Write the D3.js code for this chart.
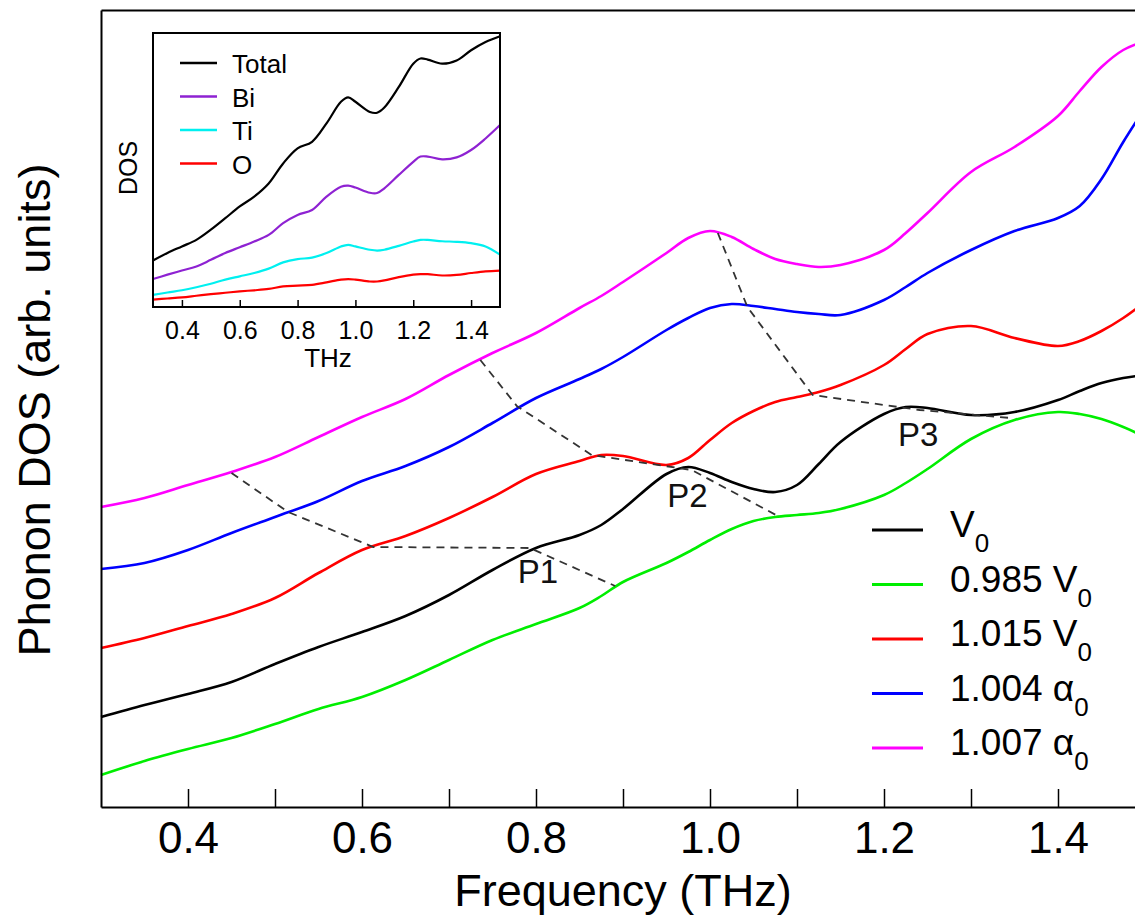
<!DOCTYPE html>
<html>
<head>
<meta charset="utf-8">
<script src="https://cdn.jsdelivr.net/npm/d3@7"></script>
<style>
  html, body { margin: 0; padding: 0; background: #ffffff; }
  svg { display: block; font-family: "Liberation Sans", Arial, Helvetica, sans-serif; }
</style>
</head>
<body>
<svg id="chart" width="1135" height="920"></svg>
<script>
// ---------------- DATA ----------------
const freqMain = [0.30,0.35,0.40,0.45,0.50,0.55,0.60,0.65,0.70,0.75,0.80,0.85,0.875,0.90,0.95,0.975,1.00,1.025,1.05,1.075,1.10,1.125,1.15,1.20,1.225,1.25,1.30,1.35,1.40,1.425,1.45,1.475,1.50];
const dosV0    = [9.0,10.2,11.3,12.5,14.3,16.0,17.5,19.1,21.2,23.7,25.9,27.2,28.2,29.8,33.3,34.0,33.4,32.5,31.8,31.5,32.2,34.3,36.5,39.3,40.0,39.9,39.2,39.5,40.7,41.6,42.4,42.9,43.2];
const dosV0985 = [3.2,4.6,5.8,6.9,8.3,9.8,11.0,12.7,14.7,16.7,18.3,19.9,21.1,22.5,24.4,25.5,26.7,27.8,28.6,29.0,29.2,29.4,29.8,31.2,32.4,33.8,36.8,38.7,39.5,39.3,38.8,38.0,37.0];
const dosV1015 = [15.9,16.9,18.1,19.3,20.9,23.4,25.7,27.1,28.9,31.0,33.3,34.6,35.2,35.1,34.2,34.9,36.7,38.4,39.6,40.5,41.0,41.5,42.2,44.2,45.8,47.3,48.1,46.9,46.1,46.6,47.6,48.9,50.5];
const dosA1004 = [23.8,24.4,25.7,27.4,29.0,30.6,32.6,34.1,36.0,38.4,40.9,42.8,43.8,45.0,47.7,48.9,49.9,50.3,50.1,49.8,49.5,49.3,49.2,50.7,52.0,53.4,55.7,57.6,58.9,60.1,62.8,66.5,69.9];
const dosA1007 = [30.0,30.9,32.2,33.5,35.0,37.0,39.0,40.8,43.2,45.4,47.4,49.9,51.1,52.5,55.4,56.9,57.6,57.0,55.8,54.8,54.3,54.0,54.2,55.7,57.4,59.4,63.5,66.0,69.1,71.6,74.0,75.7,76.6];

const seriesNames = ["V", "0.985 V", "1.015 V", "1.004 \u03b1", "1.007 \u03b1"];
const seriesSub   = ["0", "0", "0", "0", "0"];

// peak tracks (dashed guides)
const p1Freq = [0.450, 0.515, 0.613, 0.793, 0.891];
const p1Dos  = [33.4, 29.5, 26.0, 25.9, 22.1];
const p2Freq = [0.736, 0.778, 0.864, 0.979, 1.078];
const p2Dos  = [44.7, 40.1, 35.2, 33.7, 29.1];
const p3Freq = [1.009, 1.043, 1.118, 1.241, 1.346];
const p3Dos  = [57.4, 50.0, 41.2, 39.7, 38.9];
const peakNames = ["P1", "P2", "P3"];
const peakLabelFreq = [0.779, 0.951, 1.216];
const peakLabelDos  = [22.4, 30.0, 36.1];

const mainTicks = [0.4, 0.6, 0.8, 1.0, 1.2, 1.4];
const minorTicks = [0.4, 0.5, 0.6, 0.7, 0.8, 0.9, 1.0, 1.1, 1.2, 1.3, 1.4, 1.5];

// inset (partial DOS)
const freqInset = [0.30,0.35,0.40,0.45,0.50,0.55,0.60,0.65,0.70,0.75,0.80,0.85,0.90,0.95,0.975,1.00,1.05,1.075,1.10,1.15,1.20,1.225,1.25,1.30,1.35,1.40,1.45,1.50];
const dosTotal = [17.0,19.7,22.1,24.5,28.2,32.4,36.7,40.3,45.1,52.4,57.9,60.3,67.0,74.9,76.5,74.9,71.2,70.9,72.8,80.3,88.8,90.7,90.3,88.8,90.0,93.7,96.7,98.8];
const dosBi    = [10.2,11.8,13.3,14.8,17.2,19.7,21.8,23.9,26.3,30.6,33.6,35.4,40.3,43.9,44.3,43.6,41.7,41.6,43.3,48.2,53.0,54.9,54.9,53.9,54.6,57.3,61.5,66.4];
const dosTi    = [4.4,5.3,6.1,7.2,8.5,10.0,11.2,12.4,14.0,16.3,17.5,18.0,19.7,22.1,22.7,22.1,20.9,20.6,20.9,22.3,23.9,24.5,24.5,24.0,23.8,23.3,22.1,19.1];
const dosO     = [2.7,3.1,3.5,4.1,4.7,5.2,5.7,6.1,6.6,7.5,7.8,8.1,9.0,10.0,10.2,10.0,9.3,9.3,9.7,10.9,11.8,12.0,12.0,11.5,11.7,12.4,13.0,13.3];
const insetNames = ["Total", "Bi", "Ti", "O"];
const insetTicks = [0.4, 0.6, 0.8, 1.0, 1.2, 1.4];

// ---------------- DRAW ----------------
const svg = d3.select("#chart");
svg.append("rect").attr("width", 1135).attr("height", 920).attr("fill", "#fff");

const mainColors = ["#000000", "#00ee00", "#ff0000", "#0000ff", "#ff00ff"];
const mainSeries = [dosV0, dosV0985, dosV1015, dosA1004, dosA1007];

const x = d3.scaleLinear().domain([0.3, 1.5]).range([101, 1145]);
const y = d3.scaleLinear().domain([0, 79.7]).range([807, 10]);

const line = d3.line()
  .x(d => x(d[0])).y(d => y(d[1]))
  .curve(d3.curveCatmullRom.alpha(0.5));

// curves (draw order: back to front)
[4, 3, 2, 0, 1].forEach(i => {
  svg.append("path")
    .datum(freqMain.map((f, k) => [f, mainSeries[i][k]]))
    .attr("d", line)
    .attr("fill", "none")
    .attr("stroke", mainColors[i])
    .attr("stroke-width", 2.6);
});

// dashed peak tracks
const straight = d3.line().x(d => x(d[0])).y(d => y(d[1]));
[[p1Freq, p1Dos], [p2Freq, p2Dos], [p3Freq, p3Dos]].forEach(([fs, ds]) => {
  svg.append("path")
    .datum(fs.map((f, k) => [f, ds[k]]))
    .attr("d", straight)
    .attr("fill", "none")
    .attr("stroke", "#333")
    .attr("stroke-width", 1.8)
    .attr("stroke-dasharray", "8,6");
});

// peak labels
peakNames.forEach((p, i) => {
  svg.append("text")
    .attr("x", x(peakLabelFreq[i])).attr("y", y(peakLabelDos[i]))
    .attr("font-size", 33).attr("fill", "#111")
    .text(p);
});

// axes
const xAxis = d3.axisBottom(x)
  .tickValues(minorTicks)
  .tickSizeInner(-18).tickSizeOuter(0).tickPadding(15)
  .tickFormat(d => mainTicks.some(t => Math.abs(t - d) < 1e-9) ? d3.format(".1f")(d) : "");
const gx = svg.append("g").attr("transform", "translate(0,807)").call(xAxis);
gx.select(".domain").attr("stroke", "#000").attr("stroke-width", 2);
gx.selectAll(".tick line").attr("stroke", "#000").attr("stroke-width", 1.5);
gx.selectAll(".tick text").attr("font-size", 44).attr("fill", "#000")
  .attr("font-family", "Liberation Sans, Arial, sans-serif");

const yAxis = d3.axisLeft(y).tickValues([]).tickSizeOuter(0);
const gy = svg.append("g").attr("transform", "translate(101,0)").call(yAxis);
gy.select(".domain").attr("stroke", "#000").attr("stroke-width", 2);

const topAxis = d3.axisTop(x).tickValues([]).tickSizeOuter(0);
const gt = svg.append("g").attr("transform", "translate(0,10)").call(topAxis);
gt.select(".domain").attr("stroke", "#000").attr("stroke-width", 2);

svg.append("text")
  .attr("x", 623).attr("y", 906)
  .attr("text-anchor", "middle").attr("font-size", 45).attr("fill", "#000")
  .text("Frequency (THz)");

svg.append("text")
  .attr("transform", "translate(50,410) rotate(-90)")
  .attr("text-anchor", "middle").attr("font-size", 45).attr("fill", "#000")
  .text("Phonon DOS (arb. units)");

// main legend
seriesNames.forEach((name, i) => {
  const ly = 530 + i * 54.5;
  svg.append("line")
    .attr("x1", 872).attr("x2", 923).attr("y1", ly).attr("y2", ly)
    .attr("stroke", mainColors[i]).attr("stroke-width", 3);
  const t = svg.append("text")
    .attr("x", 950).attr("y", ly + 7)
    .attr("font-size", 37).attr("fill", "#000");
  t.append("tspan").text(name);
  t.append("tspan").attr("font-size", 26).attr("dy", 15).text(seriesSub[i]);
});

// ---------------- INSET ----------------
const ix = d3.scaleLinear().domain([0.3, 1.5]).range([153, 500]);
const iy = d3.scaleLinear().domain([0, 100]).range([307, 33]);
const inset = svg.append("g");
inset.append("rect")
  .attr("x", 153).attr("y", 33).attr("width", 347).attr("height", 274)
  .attr("fill", "#fff");

const insetColors = ["#000000", "#8e22d2", "#00f0f0", "#ff0000"];
const insetSeries = [dosTotal, dosBi, dosTi, dosO];
const iline = d3.line()
  .x(d => ix(d[0])).y(d => iy(d[1]))
  .curve(d3.curveCatmullRom.alpha(0.5));
insetSeries.forEach((s, i) => {
  inset.append("path")
    .datum(freqInset.map((f, k) => [f, s[k]]))
    .attr("d", iline)
    .attr("fill", "none")
    .attr("stroke", insetColors[i])
    .attr("stroke-width", 2.2);
});

const ixAxis = d3.axisBottom(ix).tickValues(insetTicks)
  .tickSizeInner(-7).tickSizeOuter(0).tickPadding(14)
  .tickFormat(d3.format(".1f"));
const gix = inset.append("g").attr("transform", "translate(0,307)").call(ixAxis);
gix.select(".domain").remove();
gix.selectAll(".tick line").attr("stroke", "#000").attr("stroke-width", 1.5);
gix.selectAll(".tick text").attr("font-size", 25).attr("fill", "#000")
  .attr("font-family", "Liberation Sans, Arial, sans-serif");

inset.append("rect")
  .attr("x", 153).attr("y", 33).attr("width", 347).attr("height", 274)
  .attr("fill", "none").attr("stroke", "#000").attr("stroke-width", 2);

inset.append("text")
  .attr("x", 328).attr("y", 367).attr("text-anchor", "middle")
  .attr("font-size", 26).attr("fill", "#000").text("THz");
inset.append("text")
  .attr("transform", "translate(137,168) rotate(-90)")
  .attr("text-anchor", "middle").attr("font-size", 25).attr("fill", "#000")
  .text("DOS");

insetNames.forEach((n, i) => {
  const ly = 63 + i * 33.5;
  inset.append("line")
    .attr("x1", 180).attr("x2", 217).attr("y1", ly).attr("y2", ly)
    .attr("stroke", insetColors[i]).attr("stroke-width", 2.5);
  inset.append("text")
    .attr("x", 232).attr("y", ly + 10)
    .attr("font-size", 26).attr("fill", "#000").text(n);
});
</script>
</body>
</html>
